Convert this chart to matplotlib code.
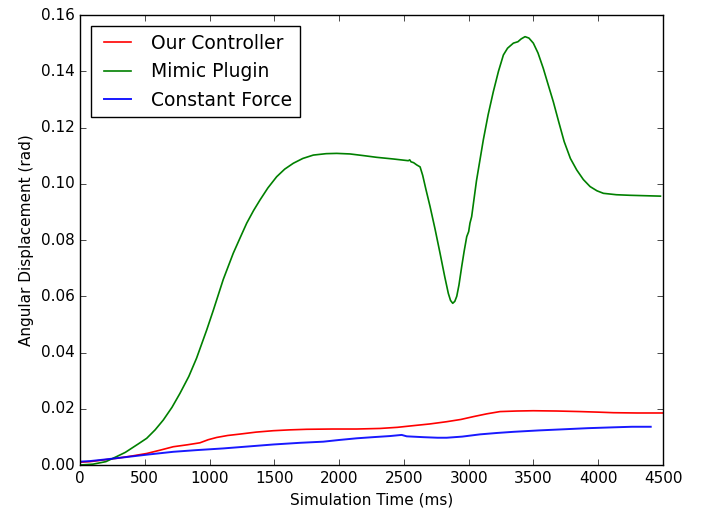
import matplotlib
matplotlib.use("Agg")
import matplotlib.pyplot as plt

# Simulation time (ms) and angular displacement (rad)
our_t = [0, 77, 180, 283, 400, 515, 620, 720, 830, 926, 990, 1055, 1140, 1235, 1360, 1492,
         1620, 1750, 1950, 2136, 2316, 2450, 2573, 2700, 2830, 2940, 3036, 3140, 3242, 3370,
         3499, 3680, 3860, 4000, 4117, 4300, 4500]
our_y = [0.0010, 0.0012, 0.0018, 0.0024, 0.0032, 0.0041, 0.0053, 0.0065, 0.0072, 0.0079,
         0.0090, 0.0098, 0.0105, 0.0110, 0.0117, 0.0122, 0.0125, 0.0127, 0.0128, 0.0128,
         0.0130, 0.0134, 0.0140, 0.0146, 0.0154, 0.0162, 0.0172, 0.0182, 0.0190, 0.0192,
         0.0193, 0.0192, 0.0190, 0.0188, 0.0186, 0.0185, 0.0185]

mimic_t = [0, 100, 200, 283, 350, 400, 450, 515, 580, 643, 710, 772, 840, 900, 978, 1029,
           1106, 1183, 1240, 1287, 1340, 1389, 1450, 1518, 1580, 1647, 1720, 1801, 1900,
           1981, 2084, 2190, 2290, 2420, 2534, 2545, 2555, 2575, 2599, 2625, 2645, 2670,
           2702, 2740, 2779, 2815, 2843, 2860, 2877, 2893, 2908, 2925, 2946, 2965, 2985,
           3000, 3010, 3023, 3060, 3113, 3150, 3190, 3230, 3268, 3300, 3345, 3380, 3405,
           3435, 3465, 3499, 3535, 3576, 3615, 3653, 3695, 3737, 3785, 3834, 3885, 3937,
           3990, 4040, 4140, 4245, 4480]
mimic_y = [0.0000, 0.0003, 0.0012, 0.0030, 0.0045, 0.0060, 0.0075, 0.0095, 0.0125, 0.0160,
           0.0205, 0.0255, 0.0315, 0.0380, 0.0480, 0.0550, 0.0660, 0.0753, 0.0812, 0.0860,
           0.0905, 0.0942, 0.0985, 0.1025, 0.1052, 0.1073, 0.1090, 0.1102, 0.1107, 0.1108,
           0.1106, 0.1100, 0.1094, 0.1088, 0.1082, 0.1085, 0.1078, 0.1075, 0.1067, 0.1060,
           0.1030, 0.0980, 0.0919, 0.0840, 0.0753, 0.0670, 0.0610, 0.0585, 0.0575, 0.0582,
           0.0600, 0.0640, 0.0705, 0.0760, 0.0812, 0.0830, 0.0860, 0.0883, 0.1010, 0.1156,
           0.1245, 0.1327, 0.1400, 0.1458, 0.1482, 0.1500, 0.1505, 0.1515, 0.1523, 0.1518,
           0.1500, 0.1465, 0.1410, 0.1350, 0.1292, 0.1220, 0.1150, 0.1090, 0.1049, 0.1015,
           0.0990, 0.0975, 0.0966, 0.0961, 0.0959, 0.0956]

const_t = [0, 77, 200, 334, 520, 720, 900, 1106, 1300, 1492, 1700, 1878, 2000, 2136, 2260,
           2393, 2483, 2522, 2650, 2760, 2830, 2950, 3088, 3220, 3345, 3540, 3731, 3920, 4117,
           4260, 4405]
const_y = [0.0012, 0.0014, 0.0020, 0.0027, 0.0037, 0.0047, 0.0053, 0.0059, 0.0066, 0.0073,
           0.0079, 0.0083, 0.0089, 0.0095, 0.0099, 0.0103, 0.0107, 0.0102, 0.0099, 0.0097,
           0.0097, 0.0101, 0.0109, 0.0114, 0.0118, 0.0123, 0.0127, 0.0131, 0.0134, 0.0136,
           0.0136]

plt.style.use("classic")
plt.rcParams["figure.facecolor"] = "white"
plt.rcParams["savefig.facecolor"] = "white"

fig = plt.figure(figsize=(7.04, 5.14), dpi=100)
ax = fig.add_axes([0.1136, 0.0953, 0.8282, 0.8755])

ax.plot(our_t, our_y, color="r", lw=1.2, label="Our Controller")
ax.plot(mimic_t, mimic_y, color="g", lw=1.2, label="Mimic Plugin")
ax.plot(const_t, const_y, color="b", lw=1.4, alpha=0.9, label="Constant Force")

ax.set_xlim(0, 4500)
ax.set_ylim(0, 0.16)
ax.set_xticks(range(0, 4501, 500))
ax.set_yticks([0.0, 0.02, 0.04, 0.06, 0.08, 0.10, 0.12, 0.14, 0.16])
ax.set_yticklabels(["%.2f" % v for v in ax.get_yticks()])
ax.tick_params(labelsize=11)
ax.set_xlabel("Simulation Time (ms)", fontsize=11)
ax.set_ylabel("Angular Displacement (rad)", fontsize=11)

ax.legend(loc="upper left", fontsize=13.5, borderaxespad=0.6)

fig.savefig("out.png", dpi=100)
